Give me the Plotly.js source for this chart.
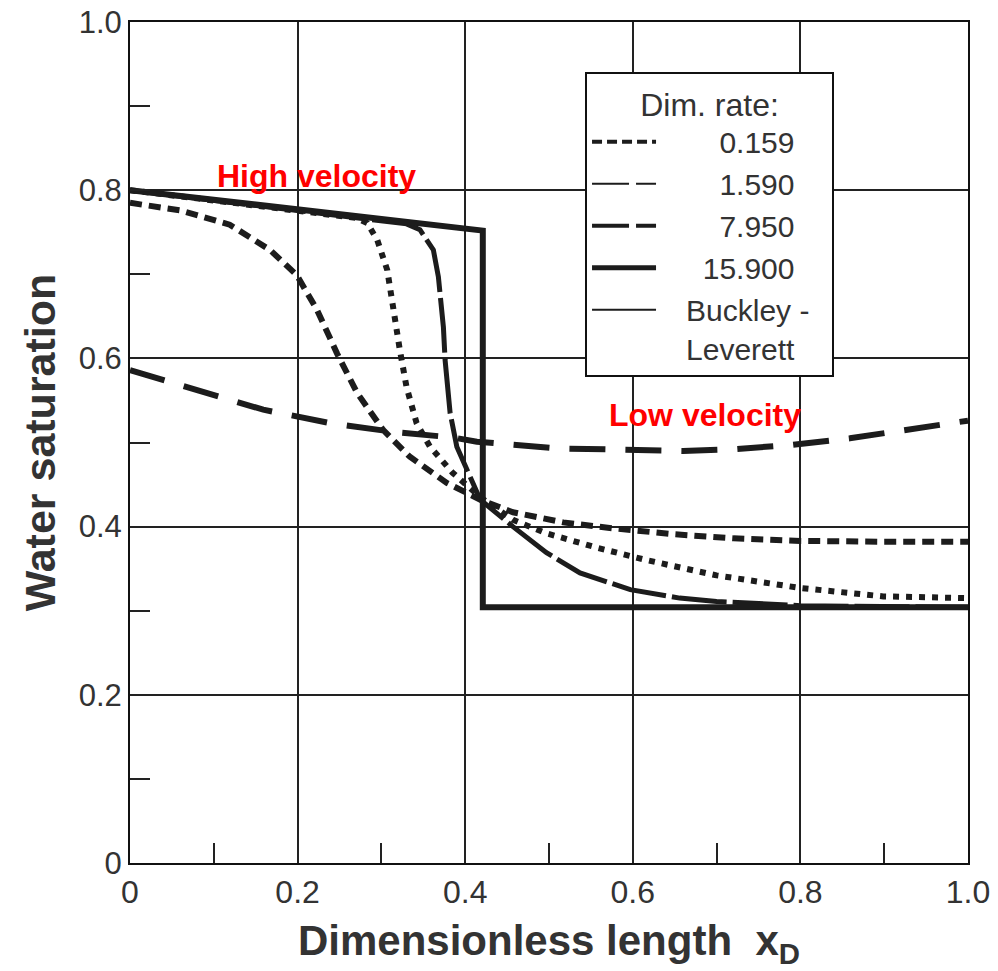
<!DOCTYPE html>
<html>
<head>
<meta charset="utf-8">
<script src="https://cdn.plot.ly/plotly-3.0.1.min.js"></script>
<style>html,body{margin:0;padding:0;background:#fff;}#chart{width:998px;height:971px;}</style>
</head>
<body>
<div id="chart"></div>
<script>
// Curve (x = dimensionless length, y = water saturation)
const shortDashX = [0, 0.06, 0.119, 0.167, 0.199, 0.223, 0.247, 0.271, 0.302, 0.334, 0.378, 0.418, 0.457, 0.517, 0.576, 0.648, 0.72, 0.8, 0.9, 1.0];
const shortDashY = [0.785, 0.776, 0.759, 0.729, 0.699, 0.658, 0.606, 0.559, 0.515, 0.483, 0.452, 0.432, 0.417, 0.405, 0.398, 0.391, 0.386, 0.383, 0.382, 0.382];

const dottedX = [0, 0.1, 0.2, 0.27, 0.283, 0.295, 0.307, 0.314, 0.322, 0.330, 0.342, 0.358, 0.385, 0.418, 0.457, 0.497, 0.557, 0.617, 0.656, 0.700, 0.8, 0.899, 1.0];
const dottedY = [0.8, 0.788, 0.776, 0.767, 0.761, 0.741, 0.705, 0.658, 0.610, 0.566, 0.523, 0.495, 0.464, 0.435, 0.408, 0.392, 0.375, 0.360, 0.352, 0.342, 0.327, 0.317, 0.315];

const dashDotX = [0, 0.1, 0.2, 0.3, 0.33, 0.346, 0.362, 0.368, 0.374, 0.376, 0.382, 0.390, 0.418, 0.457, 0.497, 0.537, 0.597, 0.656, 0.700, 0.8, 0.9, 1.0];
const dashDotY = [0.8, 0.788, 0.776, 0.764, 0.760, 0.753, 0.729, 0.697, 0.637, 0.598, 0.535, 0.495, 0.432, 0.400, 0.369, 0.345, 0.325, 0.315, 0.311, 0.306, 0.305, 0.304];

const solidX = [0, 0.421, 0.421, 1.0];
const solidY = [0.8, 0.752, 0.304, 0.304];

const longDashX = [0, 0.08, 0.159, 0.239, 0.319, 0.385, 0.414, 0.51, 0.577, 0.66, 0.72, 0.788, 0.859, 0.931, 1.0];
const longDashY = [0.586, 0.562, 0.539, 0.523, 0.512, 0.506, 0.501, 0.493, 0.491, 0.490, 0.492, 0.497, 0.505, 0.515, 0.526];

// Legend entries
const legendTitle = "Dim. rate:";
const legendNames = ["0.159", "1.590", "7.950", "15.900", "Buckley -<br>Leverett"];
const xTickVals = [0, 0.2, 0.4, 0.6, 0.8, 1.0];
const xTickText = ["0", "0.2", "0.4", "0.6", "0.8", "1.0"];
const yTickVals = [0, 0.2, 0.4, 0.6, 0.8, 1.0];
const yTickText = ["0", "0.2", "0.4", "0.6", "0.8", "1.0"];

const ink = '#1c1c1c';
const nb = n => '\u00a0'.repeat(n);

const curves = [
  {x: shortDashX, y: shortDashY, mode: 'lines', showlegend: false, line: {color: ink, width: 6, dash: '12px,7px'}},
  {x: dottedX, y: dottedY, mode: 'lines', showlegend: false, line: {color: ink, width: 6, dash: '6px,7px'}},
  {x: dashDotX, y: dashDotY, mode: 'lines', showlegend: false, line: {color: ink, width: 5, dash: '55px,6px'}},
  {x: solidX, y: solidY, mode: 'lines', showlegend: false, line: {color: ink, width: 6}},
  {x: longDashX, y: longDashY, mode: 'lines', showlegend: false, line: {color: ink, width: 6, dash: '36px,20px'}}
];

const legendStyles = [
  {width: 4, dash: '10px,5px'},
  {width: 2, dash: '37px,7px,22px,7px'},
  {width: 4, dash: '37px,7px,22px,7px'},
  {width: 5, dash: 'solid'},
  {width: 2, dash: 'solid'}
];
const pads = [7, 7, 7, 5, 3];
const legendTraces = legendNames.map((n, i) => ({
  x: [null], y: [null], mode: 'lines',
  name: nb(pads[i]) + n.replace('<br>', nb(2) + '<br>' + nb(pads[i])),
  line: {color: ink, width: legendStyles[i].width, dash: legendStyles[i].dash},
  showlegend: true, hoverinfo: 'skip'
}));

const font = 'Liberation Sans, Arial, sans-serif';

const layout = {
  width: 998, height: 971,
  margin: {l: 130, r: 30, t: 22, b: 108},
  paper_bgcolor: '#fff', plot_bgcolor: '#fff',
  font: {family: font, color: '#333', size: 30},
  xaxis: {
    range: [0, 1], tickvals: xTickVals, ticktext: xTickText,
    showgrid: true, gridcolor: '#222', gridwidth: 2,
    showline: true, mirror: true, linecolor: '#111', linewidth: 2,
    ticks: 'inside', ticklen: 20, tickwidth: 2, tickcolor: '#222',
    minor: {dtick: 0.1, ticks: 'inside', ticklen: 20, tickwidth: 2, tickcolor: '#222', showgrid: false},
    zeroline: false, fixedrange: true,
    tickfont: {size: 32, color: '#333'},
    title: {text: 'Dimensionless length  x<sub>D</sub>', font: {size: 42, color: '#333', family: font, weight: 'bold'}, standoff: 16}
  },
  yaxis: {
    range: [0, 1], tickvals: yTickVals, ticktext: yTickText,
    showgrid: true, gridcolor: '#222', gridwidth: 2,
    showline: true, mirror: true, linecolor: '#111', linewidth: 2,
    ticks: 'inside', ticklen: 20, tickwidth: 2, tickcolor: '#222',
    minor: {dtick: 0.1, ticks: 'inside', ticklen: 20, tickwidth: 2, tickcolor: '#222', showgrid: false},
    zeroline: false, fixedrange: true,
    tickfont: {size: 31, color: '#333'},
    title: {text: 'Water saturation', font: {size: 43, color: '#333', family: font, weight: 'bold'}, standoff: 10}
  },
  legend: {
    x: 0.543, y: 0.9405, xanchor: 'left', yanchor: 'top',
    bgcolor: '#fff', bordercolor: '#111', borderwidth: 2,
    font: {size: 30, color: '#333', family: font},
    itemwidth: 64, valign: 'top', tracegroupgap: 0,
    title: {text: legendTitle, side: 'top center', font: {size: 32, color: '#333', family: font}}
  },
  annotations: [
    {x: 0.223, y: 0.817, xref: 'x', yref: 'y', text: 'High velocity', showarrow: false,
     font: {size: 32, color: '#ff0000', family: font, weight: 'bold'}},
    {x: 0.686, y: 0.533, xref: 'x', yref: 'y', text: 'Low velocity', showarrow: false,
     font: {size: 32, color: '#ff0000', family: font, weight: 'bold'}}
  ],
  showlegend: true
};

Plotly.newPlot('chart', curves.concat(legendTraces), layout, {displayModeBar: false, staticPlot: true});
</script>
</body>
</html>
